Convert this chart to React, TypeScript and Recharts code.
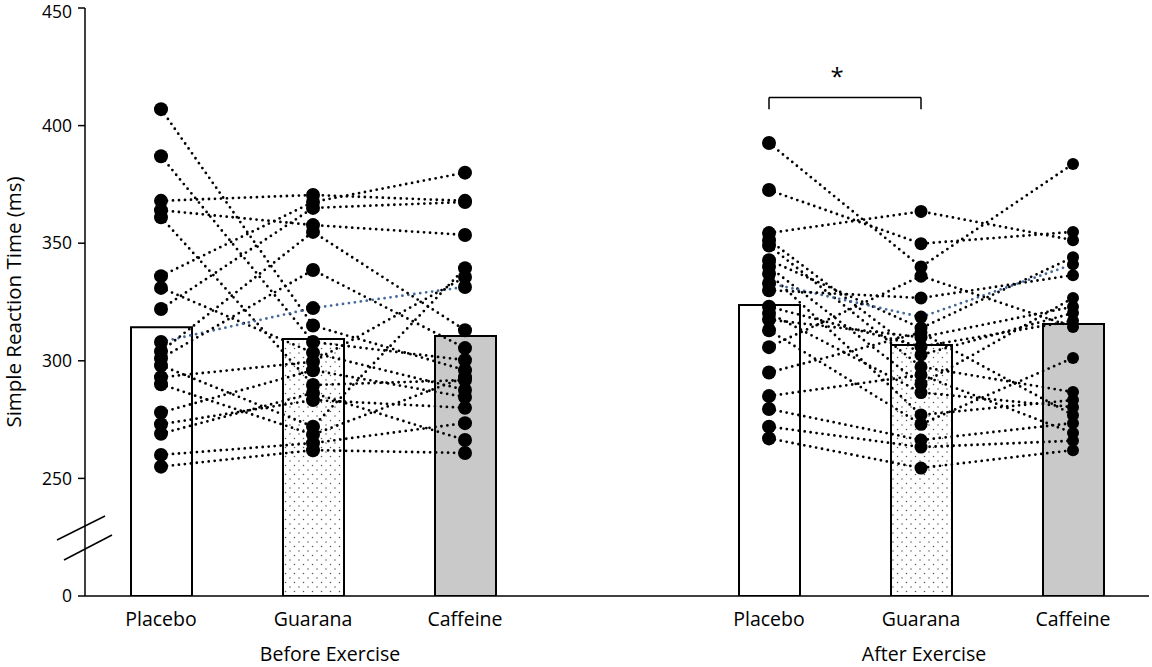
import { ComposedChart, Bar, Cell, Line, XAxis, YAxis, ReferenceLine } from "recharts";

// Simple reaction time, individual participants (dotted lines) over condition means (bars).
// Axis is broken: the "0" tick stands in for the 200 ms baseline.

const slots = ["bp", "bg", "bc", "gap", "ap", "ag", "ac"];
const slotLabels = ["Placebo", "Guarana", "Caffeine", "", "Placebo", "Guarana", "Caffeine"];
const meanRT = [314.3, 309.3, 310.5, null, 323.7, 306.7, 315.6];
const yTicks = [200, 250, 300, 350, 400, 450];

// before exercise, one entry per participant
const beforePlacebo = [407, 387, 368, 364, 361, 336, 331, 322, 308, 304, 301, 298, 293, 290, 278, 273, 269, 260, 255];
const beforeGuarana = [315, 308, 370.5, 357.7, 289.7, 367.5, 303.4, 365, 322.4, 354.8, 338.6, 272, 299.6, 268.6, 296, 283.3, 286.3, 265, 262];
const beforeCaffeine = [296, 300.3, 368, 353.5, 291.8, 380, 287.6, 367.5, 331.4, 313, 305.4, 339.4, 335.6, 293, 284.6, 280, 266.3, 273.5, 260.8];
const beforeBlue = 8;

// after exercise
const afterPlacebo = [392.6, 372.6, 354.3, 351.3, 349, 342.8, 340, 337, 333, 330, 323, 320.3, 317.5, 313, 305.8, 295, 285, 279.5, 272, 267];
const afterGuarana = [339.9, 349.8, 363.5, 302.5, 297.4, 313.9, 290, 277, 318.6, 326.7, 306, 286.5, 310, 273, 336, 312, 294, 266.3, 263.3, 254.4];
const afterCaffeine = [383.7, 354.8, 351.3, 320.3, 286.7, 344, 326.7, 283.3, 341, 336.4, 317, 280.3, 323, 301.2, 314.4, 276.9, 269.3, 273.5, 266, 262];
const afterBlue = 8;

const groupLabels: Record<string, string> = { bg: "Before Exercise", ag: "After Exercise" };
const groupShift: Record<string, number> = { bg: 17, ag: 3 };

const barFill: Record<string, string> = {
  bp: "#ffffff",
  bg: "url(#speckle)",
  bc: "#c9c9c9",
  ap: "#ffffff",
  ag: "url(#speckle)",
  ac: "#c9c9c9",
};
const dotR: Record<string, number> = { bp: 7, bg: 7, bc: 7, ap: 7, ag: 6.5, ac: 6 };

const FONT = "'Open Sans', sans-serif";

const rows = slots.map((slot, i) => {
  const row: Record<string, any> = { slot, mean: meanRT[i] };
  beforePlacebo.forEach((_, s) => {
    row[`b${s}`] =
      slot === "bp" ? beforePlacebo[s] : slot === "bg" ? beforeGuarana[s] : slot === "bc" ? beforeCaffeine[s] : null;
  });
  afterPlacebo.forEach((_, s) => {
    row[`a${s}`] =
      slot === "ap" ? afterPlacebo[s] : slot === "ag" ? afterGuarana[s] : slot === "ac" ? afterCaffeine[s] : null;
  });
  return row;
});

const subjectKeys = [
  ...beforePlacebo.map((_, s) => ({ key: `b${s}`, blue: s === beforeBlue })),
  ...afterPlacebo.map((_, s) => ({ key: `a${s}`, blue: s === afterBlue })),
];

const renderDot = (props: any) => {
  const { cx, cy, payload, key } = props;
  if (cx == null || cy == null || payload == null) return <g key={key} />;
  return <circle key={key} cx={cx} cy={cy} r={dotR[payload.slot] ?? 6} fill="#000" />;
};

const GroupTick = ({ x, y, payload }: any) => {
  const text = groupLabels[payload.value];
  if (!text) return <g />;
  return (
    <text x={x + (groupShift[payload.value] ?? 0)} y={y} dy="0.71em" textAnchor="middle" fontFamily={FONT} fontSize={19.5} fill="#000">
      {text}
    </text>
  );
};

// keeps the top "450" label inside the page
const YTick = ({ x, y, payload }: any) => (
  <text
    x={x}
    y={Math.max(y, 12)}
    dy="0.355em"
    textAnchor="end"
    fontFamily={FONT}
    fontSize={17.5}
    fill="#000"
  >
    {payload.value === 200 ? "0" : String(payload.value)}
  </text>
);

const YLabel = ({ viewBox }: any) => {
  const cx = 13;
  const cy = viewBox.y + viewBox.height / 2;
  return (
    <text
      x={cx}
      y={cy}
      transform={`rotate(-90 ${cx} ${cy})`}
      textAnchor="middle"
      dominantBaseline="central"
      fontFamily={FONT}
      fontSize={20.5}
      fill="#000"
    >
      Simple Reaction Time (ms)
    </text>
  );
};

export default function App() {
  return (
    <div style={{ position: "absolute", left: 0, top: 0, width: 1152, height: 667, background: "#fff" }}>
      <ComposedChart
        width={1152}
        height={667}
        data={rows}
        margin={{ top: 8, right: 3, bottom: 0, left: 0 }}
        style={{ fontFamily: FONT }}
      >
        <defs>
          <pattern id="speckle" width="9" height="9" patternUnits="userSpaceOnUse">
            <rect width="9" height="9" fill="#fff" />
            <circle cx="2" cy="2" r="0.75" fill="#555" />
            <circle cx="6.5" cy="6.5" r="0.75" fill="#555" />
          </pattern>
        </defs>
        <XAxis
          dataKey="slot"
          height={40}
          tickLine={false}
          tickSize={0}
          tickMargin={16}
          axisLine={{ stroke: "#000", strokeWidth: 1.5 }}
          tickFormatter={(v: string) => slotLabels[slots.indexOf(v)]}
          tick={{ fill: "#000", fontSize: 19.5 }}
          interval={0}
        />
        <XAxis
          xAxisId="grp"
          dataKey="slot"
          height={31}
          axisLine={false}
          tickLine={false}
          tickSize={0}
          tickMargin={11}
          interval={0}
          tick={<GroupTick />}
        />
        <YAxis
          type="number"
          domain={[200, 450]}
          ticks={yTicks}
          allowDataOverflow
          width={85}
          tickSize={7}
          tickMargin={6}
          axisLine={{ stroke: "#000", strokeWidth: 1.5 }}
          tickLine={{ stroke: "#000", strokeWidth: 1.5 }}
          tick={<YTick />}
          label={{ content: <YLabel /> }}
        />
        <Bar dataKey="mean" barSize={61} stroke="#000" strokeWidth={2} isAnimationActive={false}>
          {rows.map((r) => (
            <Cell key={r.slot} fill={barFill[r.slot] ?? "none"} />
          ))}
        </Bar>
        {subjectKeys.map(({ key, blue }) => (
          <Line
            key={key}
            dataKey={key}
            stroke={blue ? "#44689a" : "#000"}
            strokeWidth={2.8}
            strokeDasharray="0 6"
            strokeLinecap="round"
            type="linear"
            connectNulls={false}
            dot={renderDot}
            activeDot={false}
            isAnimationActive={false}
          />
        ))}
        <ReferenceLine
          segment={[
            { x: "ap", y: 412 },
            { x: "ag", y: 412 },
          ]}
          stroke="#000"
          strokeWidth={1.5}
          label={{ value: "*", position: "top", offset: 12, dx: -8, fill: "#000", fontSize: 24 }}
        />
        <ReferenceLine
          segment={[
            { x: "ap", y: 412 },
            { x: "ap", y: 407 },
          ]}
          stroke="#000"
          strokeWidth={1.5}
        />
        <ReferenceLine
          segment={[
            { x: "ag", y: 412 },
            { x: "ag", y: 407 },
          ]}
          stroke="#000"
          strokeWidth={1.5}
        />
      </ComposedChart>
      {/* axis-break marks */}
      <svg width={1152} height={667} style={{ position: "absolute", left: 0, top: 0, pointerEvents: "none" }}>
        <line x1={57} y1={540} x2={105} y2={516} stroke="#000" strokeWidth={1.5} />
        <line x1={64} y1={560} x2={112} y2={535} stroke="#000" strokeWidth={1.5} />
      </svg>
    </div>
  );
}
